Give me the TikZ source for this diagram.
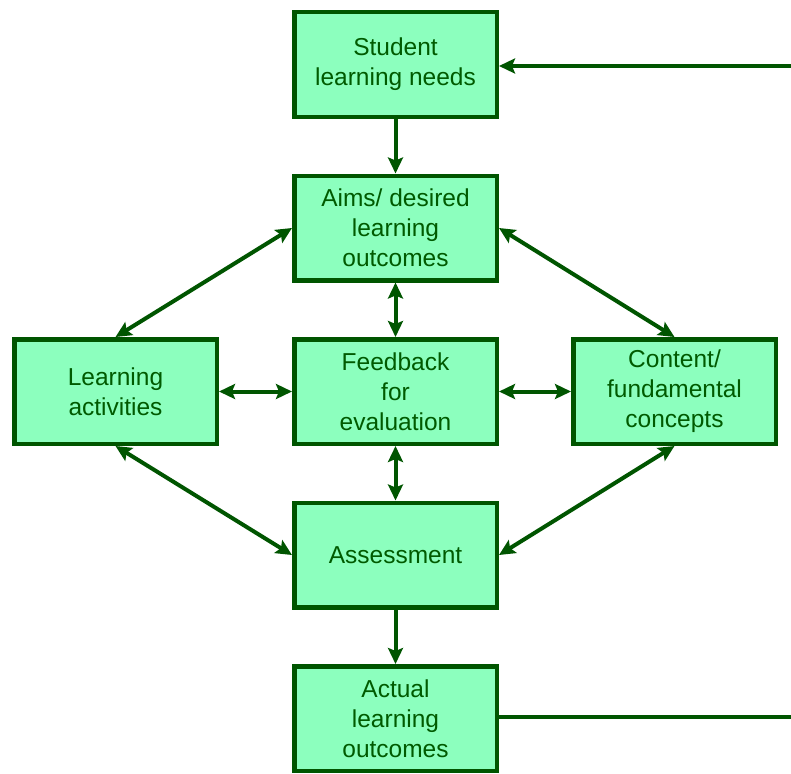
\documentclass[tikz,border=0pt]{standalone}
\usepackage{fontspec}
\setmainfont{Liberation Sans}
\usetikzlibrary{arrows.meta}
\definecolor{boxfill}{RGB}{140,255,190}
\definecolor{boxline}{RGB}{0,85,0}
\definecolor{boxtext}{RGB}{0,90,0}
\begin{document}
\begin{tikzpicture} [x=1pt, y=1pt, node distance = 163.5pt,
    stage/.style={draw=boxline, fill=boxfill, line width=4.5pt, minimum width=202.5pt, minimum height=104.5pt,
      align=center, text=boxtext, font=\fontsize{24.5}{30}\selectfont},
    link/.style={draw=boxline, line width=4pt, >={Stealth[length=16pt,width=15pt,inset=3pt]}}]
    \useasboundingbox (0,0) rectangle (791,-773);
    % place nodes
    \node [stage] (needs) at (395.5,-64.5) {Student\\learning needs};
    \node [stage, below of = needs] (aims) {Aims/ desired\\learning\\outcomes};
    \node [stage, below of = aims] (feedback) {Feedback\\for\\evaluation};
    \node [stage, left of = feedback, node distance = 280pt] (activities) {Learning\\activities};
    \node [stage, right of = feedback, node distance = 279pt] (content) {Content/\\fundamental\\concepts};
    \node [stage, below of = feedback] (assess) {Assessment};
    \node [stage, below of = assess] (actual) {Actual\\learning\\outcomes};
    \coordinate (loopin) at (791,-66);
    \coordinate (loopout) at (791,-717);
    % draw edges
    \draw [link, ->] (needs) -- (aims);
    \draw [link, <->] (aims) -- (feedback);
    \draw [link, <->] (feedback) -- (assess);
    \draw [link, ->] (assess) -- (actual);
    \draw [link, <->] (activities) -- (feedback);
    \draw [link, <->] (feedback) -- (content);
    \draw [link, <->] (aims.west) -- (activities.north);
    \draw [link, <->] (aims.east) -- (content.north);
    \draw [link, <->] (activities.south) -- (assess.west);
    \draw [link, <->] (content.south) -- (assess.east);
    \draw [link] (actual.east |- loopout) -- (loopout);
    \draw [link, ->] (loopin) -- (needs.east |- loopin);
\end{tikzpicture}
\end{document}
